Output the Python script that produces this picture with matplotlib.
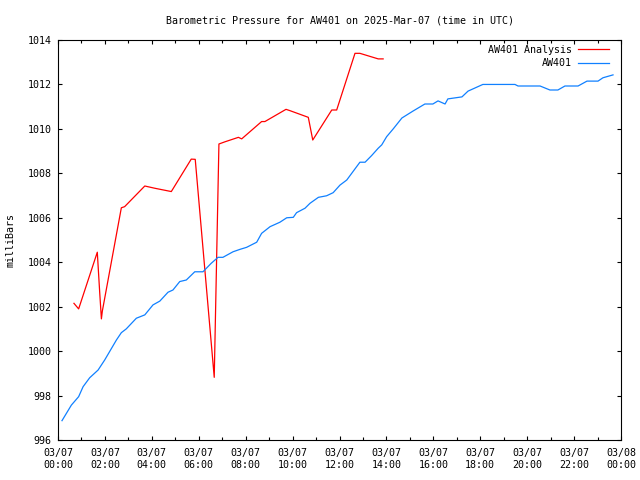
import matplotlib
matplotlib.use("Agg")
import matplotlib.pyplot as plt
from matplotlib.ticker import MultipleLocator

# ---- data (hours since 2025-03-07 00:00 UTC, millibars) ----
analysis_hours = [0.68, 0.88, 1.675, 1.78, 1.85, 1.89, 2.70, 2.84, 3.70, 4.12, 4.83,
                  5.68, 5.85, 6.66, 6.86, 7.12, 7.69, 7.83, 8.68, 8.82, 9.72, 9.89,
                  10.67, 10.86, 11.67, 11.88, 12.66, 12.87, 13.65, 13.86]
analysis_mb = [1002.15, 1001.9, 1004.45, 1002.6, 1001.45, 1001.8, 1006.45, 1006.5,
               1007.43, 1007.33, 1007.18, 1008.64, 1008.63, 998.82, 1009.32, 1009.42,
               1009.62, 1009.55, 1010.33, 1010.33, 1010.88, 1010.82, 1010.52, 1009.5,
               1010.85, 1010.85, 1013.4, 1013.4, 1013.15, 1013.15]

obs_hours = [0.17, 0.57, 0.88, 1.07, 1.35, 1.71, 1.99, 2.49, 2.70, 2.91, 3.34, 3.70,
             4.05, 4.34, 4.69, 4.90, 5.19, 5.47, 5.83, 6.18, 6.53, 6.82, 7.03, 7.46,
             7.76, 8.04, 8.47, 8.68, 9.04, 9.46, 9.75, 10.03, 10.17, 10.53, 10.74,
             11.10, 11.45, 11.73, 12.02, 12.31, 12.52, 12.87, 13.09, 13.37, 13.65,
             13.80, 14.01, 14.29, 14.66, 15.13, 15.64, 15.98, 16.20, 16.50, 16.62,
             17.22, 17.48, 18.11, 19.48, 19.61, 20.55, 20.97, 21.31, 21.61, 22.17,
             22.55, 23.02, 23.23, 23.66]
obs_mb = [996.87, 997.57, 997.95, 998.4, 998.8, 999.15, 999.6, 1000.5, 1000.83,
          1001.0, 1001.48, 1001.63, 1002.08, 1002.25, 1002.65, 1002.75, 1003.13,
          1003.2, 1003.57, 1003.57, 1003.95, 1004.22, 1004.22, 1004.47, 1004.58,
          1004.67, 1004.9, 1005.3, 1005.6, 1005.8, 1006.0, 1006.02, 1006.23,
          1006.43, 1006.65, 1006.92, 1006.99, 1007.13, 1007.47, 1007.7, 1008.0,
          1008.5, 1008.5, 1008.8, 1009.13, 1009.28, 1009.65, 1010.0, 1010.49,
          1010.8, 1011.12, 1011.12, 1011.26, 1011.12, 1011.35, 1011.44, 1011.7,
          1012.0, 1012.0, 1011.93, 1011.93, 1011.75, 1011.75, 1011.93, 1011.93,
          1012.15, 1012.15, 1012.3, 1012.43]

xtick_hours = list(range(0, 25, 2))
xtick_labels = ["03/07\n00:00", "03/07\n02:00", "03/07\n04:00", "03/07\n06:00",
                "03/07\n08:00", "03/07\n10:00", "03/07\n12:00", "03/07\n14:00",
                "03/07\n16:00", "03/07\n18:00", "03/07\n20:00", "03/07\n22:00",
                "03/08\n00:00"]
yticks = list(range(996, 1015, 2))

FONT = "DejaVu Sans Mono"
FS = 7.2

fig = plt.figure(figsize=(6.4, 4.8), dpi=100)
ax = fig.add_axes([58 / 640, 40 / 480, (621 - 58) / 640, 400 / 480])

ax.plot(analysis_hours, analysis_mb, color="#ff0000", lw=0.9,
        label="AW401 Analysis")
ax.plot(obs_hours, obs_mb, color="#1080ff", lw=0.9,
        label="AW401")

ax.set_xlim(0, 24)
ax.set_ylim(996, 1014)
ax.set_xticks(xtick_hours)
ax.set_xticklabels(xtick_labels, fontsize=FS, family=FONT, linespacing=1.3)
ax.xaxis.set_minor_locator(MultipleLocator(1))
ax.set_yticks(yticks)
ax.set_yticklabels([str(v) for v in yticks], fontsize=FS, family=FONT)

ax.tick_params(axis="both", which="both", direction="in", top=True, right=True,
               width=0.8, color="black")
ax.tick_params(axis="both", which="major", length=3.2)
ax.tick_params(axis="x", which="minor", length=2.0)
ax.tick_params(axis="x", which="major", pad=5.5)
ax.tick_params(axis="y", which="major", pad=4.5)
for s in ax.spines.values():
    s.set_linewidth(0.8)

ax.set_title("Barometric Pressure for AW401 on 2025-Mar-07 (time in UTC)",
             fontsize=FS, family=FONT, pad=12)
ax.set_ylabel("milliBars", fontsize=FS, family=FONT, labelpad=9)

leg = ax.legend(loc="upper right", bbox_to_anchor=(1.0 - 7 / 563, 1.0), frameon=False,
                markerfirst=False, prop={"family": FONT, "size": FS},
                handlelength=3.1, handletextpad=0.6, labelspacing=0.32,
                borderaxespad=0.3, borderpad=0.2)

fig.savefig("out.png", dpi=100)
